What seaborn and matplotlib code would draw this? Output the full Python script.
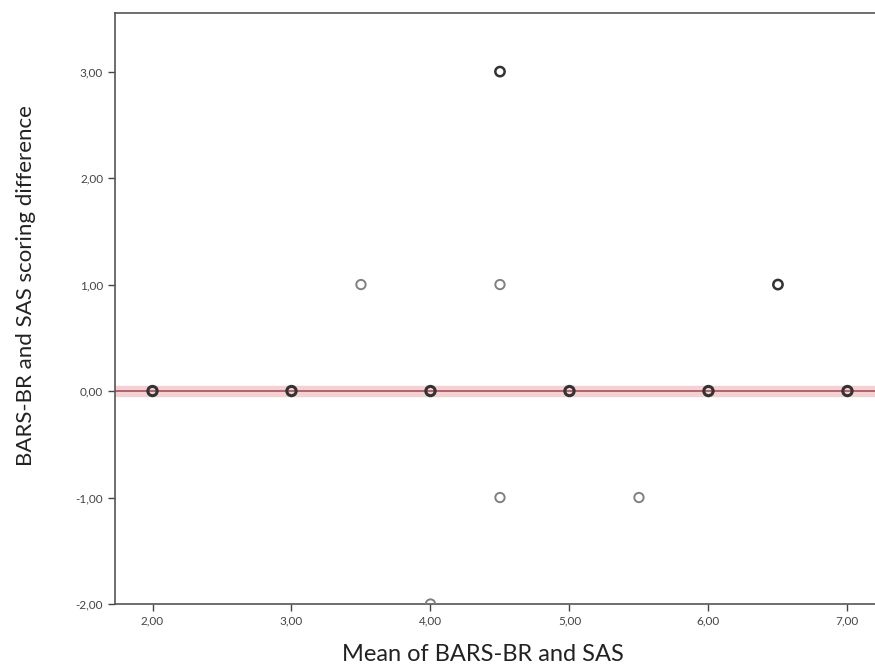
import numpy as np
import pandas as pd
import seaborn as sns
import matplotlib.pyplot as plt
from matplotlib.ticker import FuncFormatter

# Bland-Altman style data
mean_vals = [2.0, 3.0, 3.5, 4.0, 4.0, 4.5, 4.5, 4.5, 5.0, 5.5, 6.0, 6.5, 7.0]
diff_vals = [0.0, 0.0, 1.0, 0.0, -2.0, 3.0, 1.0, -1.0, 0.0, -1.0, 0.0, 1.0, 0.0]
counts = [3, 3, 1, 3, 1, 2, 1, 1, 3, 1, 3, 2, 3]
x_ticks = [2, 3, 4, 5, 6, 7]
y_ticks = [-2, -1, 0, 1, 2, 3]
mean_diff = 0.0
band = 0.045

df = pd.DataFrame({'mean': mean_vals, 'diff': diff_vals, 'n': counts})

sns.set_style('white')
plt.rcParams['font.family'] = ['Lato', 'DejaVu Sans']

fig = plt.figure(figsize=(8.75, 6.68), dpi=100)
ax = fig.add_axes([0.1314, 0.0958, 0.88, 0.8847])

ax.axhspan(mean_diff - band, mean_diff + band, color='#f4d0d3', zorder=1)
ax.axhline(mean_diff, color='#a0525a', lw=1.2, zorder=2)

for n, sub in df.groupby('n'):
    sns.scatterplot(data=sub, x='mean', y='diff', ax=ax, s=45, marker='o',
                    facecolor='none', edgecolor='#333333' if n > 1 else '#808080',
                    linewidth=1.0 + 0.4 * n, zorder=3, legend=False)

ax.set_xlim(1.73, 7.27)
ax.set_ylim(-2.0, 3.55)
ax.set_xticks(x_ticks)
ax.set_yticks(y_ticks)
fmt = FuncFormatter(lambda v, p: f'{v:.2f}'.replace('.', ','))
ax.xaxis.set_major_formatter(fmt)
ax.yaxis.set_major_formatter(fmt)
ax.tick_params(axis='both', which='major', direction='out', length=5, width=1,
               color='#444444', labelsize=8.5, labelcolor='#444444', bottom=True, left=True)

for sp in ax.spines.values():
    sp.set_color('#555555')
    sp.set_linewidth(1.2)

ax.set_xlabel('Mean of BARS-BR and SAS', fontsize=17, color='#222222', va='center')
ax.xaxis.set_label_coords(0.478, -0.086)
ax.set_ylabel('BARS-BR and SAS scoring difference', fontsize=16, color='#222222', va='center')
ax.yaxis.set_label_coords(-0.115, 0.538)

plt.savefig('out.png', dpi=100)
